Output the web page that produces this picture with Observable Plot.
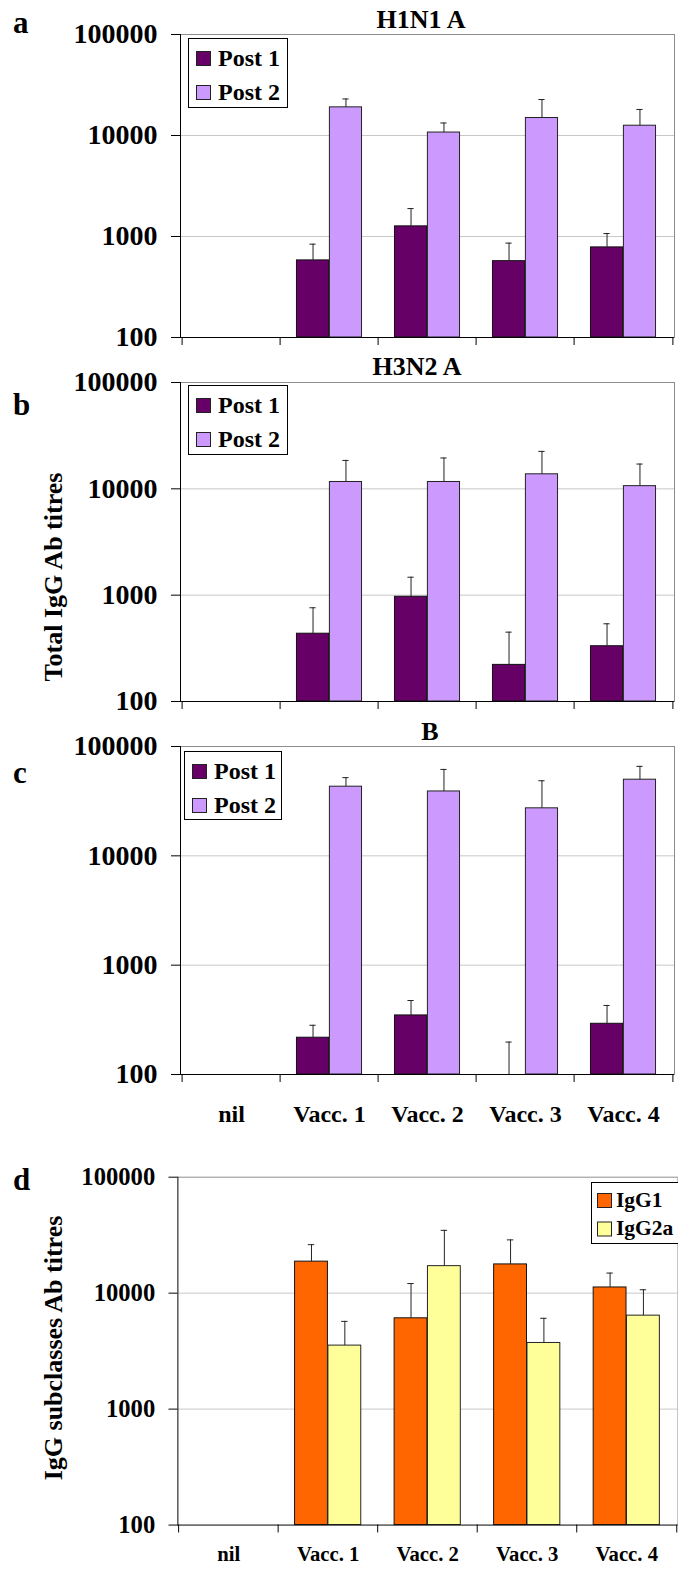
<!DOCTYPE html>
<html><head><meta charset="utf-8">
<script src="https://cdn.jsdelivr.net/npm/d3@7"></script>
<script src="https://cdn.jsdelivr.net/npm/@observablehq/plot@0.6"></script>
<style>
html,body{margin:0;padding:0;background:#fff;overflow:hidden}
#root{position:relative;width:678px;height:1573px;overflow:hidden;background:#fff}
.panel{position:absolute;left:0}
</style></head><body><div id="root"></div>
<script>
// ---- data ----
const categories = ["nil", "Vacc. 1", "Vacc. 2", "Vacc. 3", "Vacc. 4"];
const yTicks = [100, 1000, 10000, 100000];
const gridTicks = [1000, 10000];

const h1n1Post1    = [null, 580, 1260, 570, 780];
const h1n1Post1Err = [null, 840, 1890, 860, 1070];
const h1n1Post2    = [null, 19000, 10700, 14900, 12500];
const h1n1Post2Err = [null, 23000, 13300, 22700, 18100];

const h3n2Post1    = [null, 434, 966, 221, 331];
const h3n2Post1Err = [null, 761, 1475, 449, 538];
const h3n2Post2    = [null, 11600, 11600, 13700, 10600];
const h3n2Post2Err = [null, 18500, 19500, 22500, 17100];

const bPost1    = [null, 217, 347, 100, 291];
const bPost1Err = [null, 282, 475, 198, 428];
const bPost2    = [null, 42900, 38800, 27200, 49700];
const bPost2Err = [null, 51900, 61700, 48600, 65800];

const igg1     = [null, 18700, 6070, 17700, 11200];
const igg1Err  = [null, 26200, 12100, 28800, 14900];
const igg2a    = [null, 3530, 17100, 3720, 6400];
const igg2aErr = [null, 5710, 34800, 6070, 10700];

const seriesPost = ["Post 1", "Post 2"];
const seriesIgG = ["IgG1", "IgG2a"];
const colorsPost = ["#660066", "#CC99FF"];
const colorsIgG = ["#FF6600", "#FFFF99"];

const FONT = "'Liberation Serif', 'Times New Roman', serif";
const root = document.getElementById("root");

function panel({s1, e1, s2, e2, c1, c2, plotTop, plotBottom, W, mr, mb, yFont, labels, xFont}) {
  const mt = 20, ml = 180;
  const rows = categories.map((cat, i) => ({cat, v1: s1[i], e1: e1[i], v2: s2[i], e2: e2[i]}));
  const bw = (W - mr - ml) / categories.length;
  const capHalf = 3.5;
  const marks = [
    Plot.gridY(gridTicks, {stroke: "#c8c8c8", strokeOpacity: 1}),
    Plot.ruleY([yTicks[yTicks.length - 1]], {stroke: "#8c8c8c"}),
    Plot.frame({anchor: "right", stroke: "#8c8c8c"}),
    Plot.barY(rows, {x: "cat", y1: 100, y2: "v1", fill: c1, stroke: "#111", insetLeft: bw / 6, insetRight: bw / 2}),
    Plot.barY(rows, {x: "cat", y1: 100, y2: "v2", fill: c2, stroke: "#222", insetLeft: bw / 2, insetRight: bw / 6}),
    Plot.ruleX(rows, {x: "cat", y1: "v1", y2: "e1", dx: -bw / 6, stroke: "#222"}),
    Plot.ruleX(rows, {x: "cat", y1: "v2", y2: "e2", dx: bw / 6, stroke: "#222"}),
    Plot.tickY(rows, {x: "cat", y: "e1", insetLeft: bw / 3 - capHalf, insetRight: 2 * bw / 3 - capHalf, stroke: "#222"}),
    Plot.tickY(rows, {x: "cat", y: "e2", insetLeft: 2 * bw / 3 - capHalf, insetRight: bw / 3 - capHalf, stroke: "#222"}),
    Plot.ruleY([yTicks[0]], {stroke: "#000"}),
    Plot.frame({anchor: "left", stroke: "#000"}),
    Plot.axisY(yTicks, {tickSize: 9, tickPadding: 14, tickFormat: d => String(d), fontSize: yFont, fontWeight: "bold", stroke: "#000"}),
    Plot.axisX(categories, {tickSize: 8, tickFormat: () => "", dx: -bw / 2, stroke: "#000"}),
    Plot.axisX([categories[categories.length - 1]], {tickSize: 8, tickFormat: () => "", dx: bw / 2, stroke: "#000"})
  ];
  if (labels) marks.push(Plot.axisX(categories, {tickSize: 0, tickPadding: labels, fontSize: xFont, fontWeight: "bold"}));
  const chart = Plot.plot({
    width: W,
    height: (plotBottom - plotTop) + mt + mb,
    marginTop: mt, marginBottom: mb, marginLeft: ml, marginRight: mr,
    x: {domain: categories, padding: 0, label: null},
    y: {type: "log", domain: [yTicks[0], yTicks[yTicks.length - 1]], label: null},
    style: {fontFamily: FONT, fontWeight: "bold", fontSize: yFont + "px", background: "transparent", overflow: "visible", color: "#000"},
    marks
  });
  const div = document.createElement("div");
  div.className = "panel";
  div.style.top = (plotTop - mt) + "px";
  div.appendChild(chart);
  root.appendChild(div);
}

panel({s1: h1n1Post1, e1: h1n1Post1Err, s2: h1n1Post2, e2: h1n1Post2Err, c1: colorsPost[0], c2: colorsPost[1], plotTop: 34, plotBottom: 337, W: 678, mr: 4, mb: 20, yFont: 28});
panel({s1: h3n2Post1, e1: h3n2Post1Err, s2: h3n2Post2, e2: h3n2Post2Err, c1: colorsPost[0], c2: colorsPost[1], plotTop: 382, plotBottom: 701, W: 678, mr: 4, mb: 20, yFont: 28});
panel({s1: bPost1, e1: bPost1Err, s2: bPost2, e2: bPost2Err, c1: colorsPost[0], c2: colorsPost[1], plotTop: 746, plotBottom: 1074, W: 678, mr: 4, mb: 60, yFont: 28, labels: 30, xFont: 24});
panel({s1: igg1, e1: igg1Err, s2: igg2a, e2: igg2aErr, c1: colorsIgG[0], c2: colorsIgG[1], plotTop: 1177, plotBottom: 1530, W: 688, mr: 0.5, mb: 43, yFont: 25, labels: 22, xFont: 21});

// ---- overlay texts / legends ----
const svg = d3.select(root).append("svg")
  .attr("width", 678).attr("height", 1573)
  .style("position", "absolute").style("left", 0).style("top", 0)
  .style("font-family", FONT).style("font-weight", "bold");

const letters = [["a", 13, 33], ["b", 13, 415], ["c", 13, 783], ["d", 13, 1190]];
letters.forEach(([t, x, y]) => svg.append("text").attr("x", x).attr("y", y).attr("font-size", 31).text(t));

const titles = [["H1N1 A", 421, 28], ["H3N2 A", 417, 375], ["B", 430, 740]];
titles.forEach(([t, x, y]) => svg.append("text").attr("x", x).attr("y", y).attr("font-size", 26).attr("text-anchor", "middle").text(t));

const yTitles = [["Total IgG Ab titres", 53, 577], ["IgG subclasses Ab titres", 53, 1348]];
yTitles.forEach(([t, x, y]) => svg.append("text").attr("transform", `translate(${x},${y}) rotate(-90)`)
  .attr("font-size", 26).attr("text-anchor", "middle").attr("dy", "0.35em").text(t));

function legend(x, y, w, h, names, colors, o) {
  const g = svg.append("g").attr("transform", `translate(${x},${y})`);
  g.append("rect").attr("x", 0.5).attr("y", 0.5).attr("width", w).attr("height", h).attr("fill", "#fff").attr("stroke", "#000");
  names.forEach((n, i) => {
    g.append("rect").attr("x", o.sx + 0.5).attr("y", o.sy + 0.5 + i * o.step).attr("width", o.ss).attr("height", o.ss).attr("fill", colors[i]).attr("stroke", "#222");
    g.append("text").attr("x", o.tx).attr("y", o.ty + i * o.step).attr("font-size", o.fs).text(n);
  });
}
const postOpts = {sx: 8, sy: 13, ss: 14, step: 34, tx: 30, ty: 28, fs: 24};
legend(188, 38, 99, 69, seriesPost, colorsPost, postOpts);
legend(188, 385, 99, 69, seriesPost, colorsPost, postOpts);
legend(184, 751, 97, 68, seriesPost, colorsPost, postOpts);
legend(591, 1182, 95, 61, seriesIgG, colorsIgG, {sx: 6, sy: 11, ss: 14, step: 28.5, tx: 25, ty: 24.7, fs: 21.5});
</script></body></html>
